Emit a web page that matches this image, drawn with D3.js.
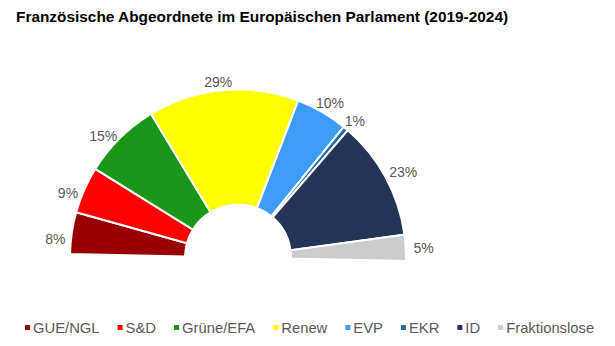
<!DOCTYPE html>
<html>
<head>
<meta charset="utf-8">
<script src="https://cdn.jsdelivr.net/npm/d3@7"></script>
<style>
  html, body { margin: 0; padding: 0; background: #fff; }
  svg { display: block; font-family: "Liberation Sans", Arial, sans-serif; }
</style>
</head>
<body>
<svg id="chart" width="615" height="346"></svg>
<script>
// Fraktionen der französischen Abgeordneten (Anteile in %)
const parties = ["GUE/NGL", "S&D", "Grüne/EFA", "Renew", "EVP", "EKR", "ID", "Fraktionslose"];
const shares  = [8, 9, 15, 29, 10, 1, 23, 5];
const colors  = ["#990000", "#ff0000", "#1a961a", "#ffff00", "#3d9cf5", "#1f6ea8", "#253558", "#cccccc"];

const title = "Französische Abgeordnete im Europäischen Parlament (2019-2024)";

const svg = d3.select("#chart");

svg.append("text")
  .attr("x", 16).attr("y", 22)
  .attr("font-size", 15.4).attr("font-weight", "bold").attr("fill", "#000")
  .text(title);

// Halbkreis-Diagramm
const cx = 238, cy = 257.5;
const rOuter = 168, rInner = 53;
const tilt = 1.2 * Math.PI / 180;

const data = parties.map((p, i) => ({ name: p, v: shares[i], color: colors[i] }));

const pie = d3.pie()
  .value(d => d.v)
  .sort(null)
  .startAngle(-Math.PI / 2 + tilt)
  .endAngle(Math.PI / 2 + tilt);
const arcs = pie(data);

const arc = d3.arc().innerRadius(rInner).outerRadius(rOuter);

const g = svg.append("g").attr("transform", `translate(${cx},${cy})`);

g.selectAll("path.slice")
  .data(arcs)
  .join("path")
  .attr("class", "slice")
  .attr("d", arc)
  .attr("fill", d => d.data.color)
  .attr("stroke", "#fff")
  .attr("stroke-width", 2)
  .attr("stroke-linejoin", "miter");

// Beschriftungen außerhalb des Bogens: Textbox liegt mit ihrer Kante am Bogen an
const lcx = 239, lcy = 262, lPad = 175;
const labelPie = d3.pie()
  .value(d => d.v)
  .sort(null)
  .startAngle(-Math.PI / 2)
  .endAngle(Math.PI / 2);

const lg = svg.append("g").attr("transform", `translate(${lcx},${lcy})`);
labelPie(data).forEach(d => {
  const mid = (d.startAngle + d.endAngle) / 2;
  const ux = Math.sin(mid), uy = -Math.cos(mid);
  const t = lg.append("text")
    .attr("text-anchor", "middle")
    .attr("dy", "0.35em")
    .attr("font-size", 14)
    .attr("fill", "#595959")
    .text(d3.format(".0f")(d.data.v) + "%");
  const w = t.node().getComputedTextLength(), h = 12;
  const x = ux * lPad + ux * w / 2;
  const y = uy * lPad + uy * h / 2;
  t.attr("x", x).attr("y", y);
});

// Legende
const legend = svg.append("g");
let lx = 25;
const ly = 333;
data.forEach(d => {
  legend.append("rect")
    .attr("x", lx).attr("y", ly - 8)
    .attr("width", 5).attr("height", 5)
    .attr("fill", d.color);
  const t = legend.append("text")
    .attr("x", lx + 8).attr("y", ly)
    .attr("font-size", 14.8)
    .attr("fill", "#595959")
    .text(d.name);
  lx += 8 + t.node().getComputedTextLength() + 18;
});
</script>
</body>
</html>
